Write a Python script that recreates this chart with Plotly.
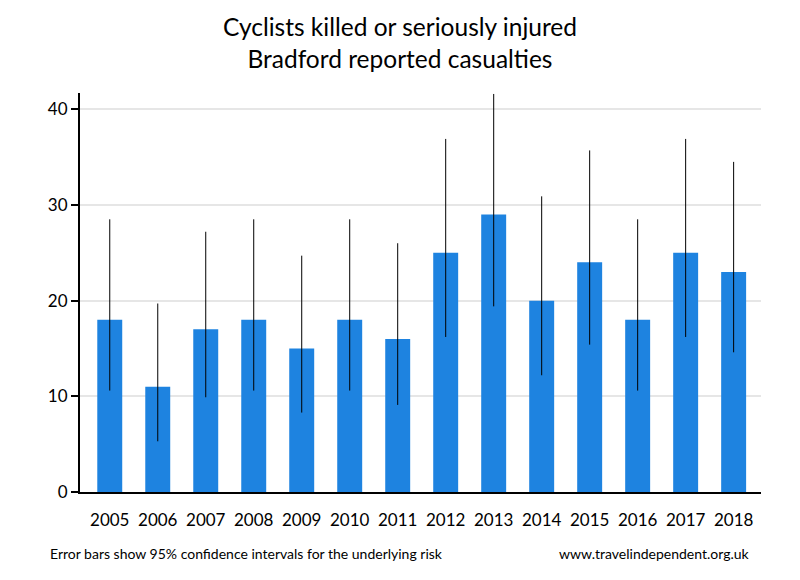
import plotly.graph_objects as go

years = ["2005", "2006", "2007", "2008", "2009", "2010", "2011",
         "2012", "2013", "2014", "2015", "2016", "2017", "2018"]
casualties = [18, 11, 17, 18, 15, 18, 16, 25, 29, 20, 24, 18, 25, 23]
ci_low = [10.6, 5.3, 9.9, 10.6, 8.3, 10.6, 9.1, 16.2, 19.4, 12.2, 15.4, 10.6, 16.2, 14.6]
ci_high = [28.5, 19.7, 27.2, 28.5, 24.7, 28.5, 26.0, 36.9, 41.6, 30.9, 35.7, 28.5, 36.9, 34.5]

err_plus = [h - v for h, v in zip(ci_high, casualties)]
err_minus = [v - l for l, v in zip(ci_low, casualties)]

FONT = "Lato, 'Open Sans', sans-serif"

fig = go.Figure(go.Bar(
    x=years, y=casualties,
    marker=dict(color="#1E83E0", line=dict(width=0)),
    error_y=dict(type="data", symmetric=False, array=err_plus, arrayminus=err_minus,
                 color="black", thickness=1, width=0),
))

fig.update_layout(
    width=800, height=580,
    margin=dict(l=72, r=47, t=85, b=96),
    paper_bgcolor="white", plot_bgcolor="white",
    bargap=0.48,
    showlegend=False,
    font=dict(family=FONT, color="black"),
    title=dict(text="Cyclists killed or seriously injured<br>Bradford reported casualties",
               xref="container", x=0.49, xanchor="center", y=0.951, yanchor="top",
               font=dict(size=24.5, family=FONT, color="black")),
    xaxis=dict(range=[-0.62, 13.57], showgrid=False, showline=True, linecolor="black",
               linewidth=2, ticks="", tickfont=dict(size=17, color="black"),
               ticklabelstandoff=12),
    yaxis=dict(range=[0, 41.7], showgrid=True, gridcolor="#e6e6e6", gridwidth=2,
               showline=True, linecolor="black", linewidth=2, ticks="outside",
               ticklen=7, tickwidth=2, tickcolor="black", tickvals=[0, 10, 20, 30, 40],
               tickfont=dict(size=17, color="black"), zeroline=False),
    annotations=[
        dict(text="Error bars show 95% confidence intervals for the underlying risk",
             xref="paper", yref="paper", x=-0.047, y=-0.153, xanchor="left", yanchor="middle",
             showarrow=False, font=dict(size=14, family=FONT, color="black")),
        dict(text="www.travelindependent.org.uk",
             xref="paper", yref="paper", x=0.987, y=-0.153, xanchor="right", yanchor="middle",
             showarrow=False, font=dict(size=14, family=FONT, color="black")),
    ],
)

fig.write_html("out.html")
